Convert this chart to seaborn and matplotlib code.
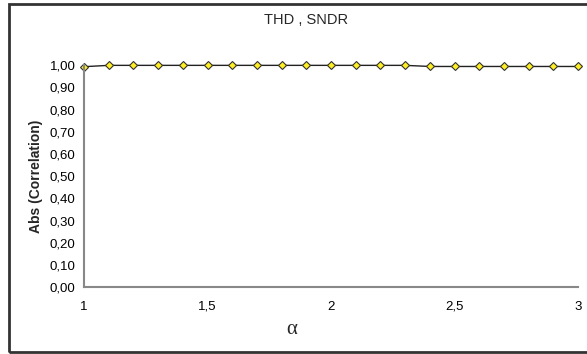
import numpy as np
import seaborn as sns
import matplotlib.pyplot as plt
from matplotlib.patches import Rectangle
from matplotlib.ticker import FuncFormatter

# Alpha values and |correlation| between THD and SNDR
alpha = [1.0, 1.1, 1.2, 1.3, 1.4, 1.5, 1.6, 1.7, 1.8, 1.9, 2.0,
         2.1, 2.2, 2.3, 2.4, 2.5, 2.6, 2.7, 2.8, 2.9, 3.0]
corr = [0.993, 0.999, 0.999, 0.999, 0.999, 0.999, 0.999, 0.999, 0.999, 0.999, 0.999,
        0.999, 0.999, 0.999, 0.994, 0.994, 0.994, 0.994, 0.994, 0.994, 0.994]

sns.set_style("white")
plt.rcParams['font.family'] = ['Liberation Sans', 'DejaVu Sans']

fig = plt.figure(figsize=(5.87, 3.54), dpi=100)
ax = fig.add_axes([0.143, 0.189, 0.842, 0.627])

sns.lineplot(x=alpha, y=corr, ax=ax, color="#222222", linewidth=1,
             marker="D", markersize=4.5, markerfacecolor="#ffee22",
             markeredgecolor="#333333", markeredgewidth=0.8, clip_on=False)

ax.set_xlim(1, 3)
ax.set_ylim(0, 1)
ax.set_xticks([1, 1.5, 2, 2.5, 3])
ax.set_yticks(np.arange(0, 1.01, 0.1))
ax.xaxis.set_major_formatter(FuncFormatter(lambda v, p: f"{v:g}".replace(".", ",")))
ax.yaxis.set_major_formatter(FuncFormatter(lambda v, p: f"{v:.2f}".replace(".", ",")))
ax.tick_params(axis="both", labelsize=9.5, colors="black")
ax.tick_params(axis="y", direction="out", length=4, width=0.8, color="#777777", pad=2)
ax.tick_params(axis="x", direction="inout", length=4, width=0.8, color="#444444", pad=8)

sns.despine(ax=ax)
for s in ["left", "bottom"]:
    ax.spines[s].set_color("#888888")
    ax.spines[s].set_linewidth(1.5)

ax.set_ylabel("Abs (Correlation)", fontsize=10, fontweight="bold", labelpad=5)
fig.text(292 / 587, 1 - 329 / 354, "α", ha="center", va="center",
         fontsize=15, family=["Liberation Serif", "DejaVu Serif"])
fig.text(0.521, 0.944, "THD , SNDR", ha="center", va="center", fontsize=10.5)

fig.patches.append(Rectangle((9 / 587, 2 / 354), 1.0, 1 - 6 / 354, transform=fig.transFigure,
                             fill=False, edgecolor="#333333", linewidth=2))

fig.savefig("out.png", dpi=100)
